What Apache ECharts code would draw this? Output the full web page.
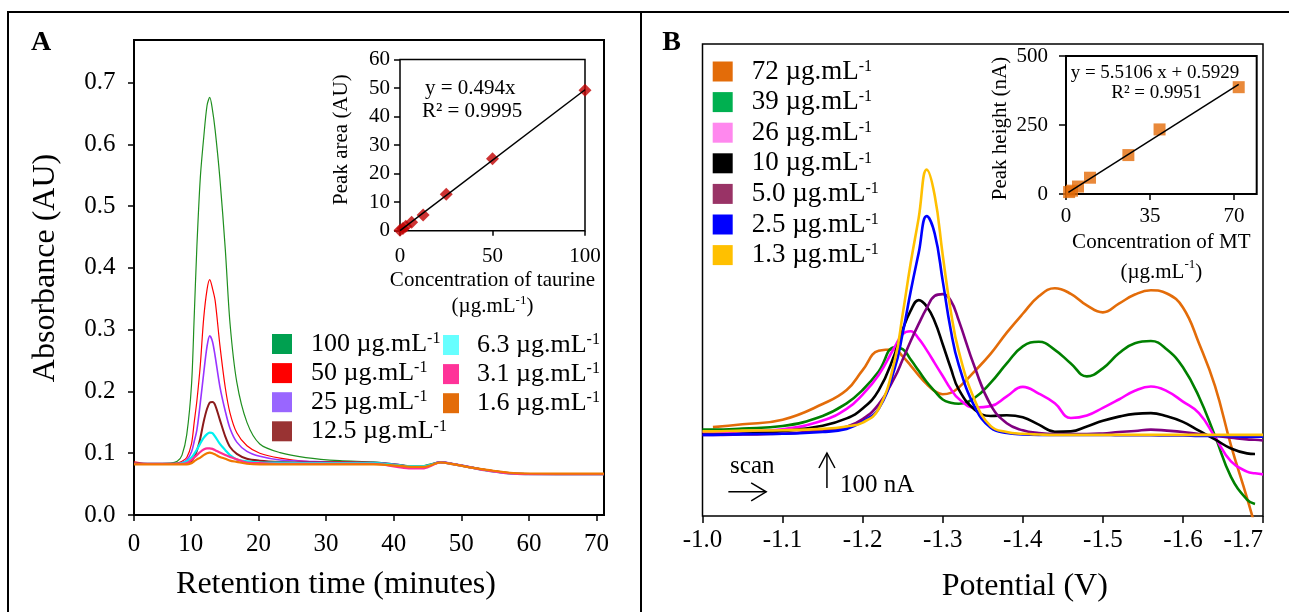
<!DOCTYPE html>
<html><head><meta charset="utf-8">
<script src="https://cdn.jsdelivr.net/npm/echarts@6/dist/echarts.min.js"></script>
<style>html,body{margin:0;padding:0;background:#fff}#c{width:1289px;height:612px}</style>
</head><body><div id="c"></div>
<script>
const FONT = "'Liberation Serif','Times New Roman',Times,serif";
const MU = '\u00B5';

// ---------- Panel A : chromatograms (retention time in minutes, absorbance in AU)
const timeA = [1.6, 4, 7, 8, 8.7, 9.4, 10.1, 10.5, 10.9, 11.4, 11.9, 12.4, 12.8, 13.2, 13.6, 14.3, 15.1, 15.8, 16.8, 18.3, 20.2, 23.2, 27, 32, 37, 40.5, 42.5, 44.5, 46.9, 48.9, 51.3, 53.8, 57.7, 64, 71.1];
const abs100 = [0.083,0.083,0.084,0.087,0.097,0.130,0.210,0.320,0.435,0.545,0.610,0.663,0.676,0.656,0.623,0.545,0.430,0.310,0.215,0.150,0.115,0.101,0.093,0.088,0.086,0.082,0.079,0.080,0.086,0.083,0.078,0.073,0.068,0.067,0.067];
const abs50  = [0.086,0.083,0.083,0.084,0.087,0.093,0.115,0.150,0.185,0.242,0.318,0.365,0.381,0.367,0.347,0.275,0.206,0.165,0.133,0.112,0.100,0.092,0.087,0.086,0.085,0.082,0.079,0.079,0.086,0.083,0.078,0.073,0.068,0.067,0.067];
const abs25  = [0.083,0.083,0.083,0.083,0.085,0.089,0.102,0.119,0.138,0.181,0.229,0.273,0.290,0.281,0.257,0.208,0.168,0.140,0.118,0.103,0.095,0.089,0.087,0.085,0.085,0.082,0.079,0.079,0.086,0.083,0.078,0.072,0.067,0.066,0.066];
const abs12_5= [0.083,0.083,0.083,0.083,0.083,0.084,0.087,0.094,0.104,0.124,0.151,0.172,0.182,0.183,0.178,0.154,0.127,0.110,0.099,0.091,0.088,0.086,0.085,0.085,0.084,0.081,0.079,0.079,0.085,0.082,0.077,0.072,0.067,0.066,0.066];
const abs6_3 = [0.083,0.083,0.083,0.083,0.084,0.087,0.093,0.099,0.106,0.116,0.125,0.131,0.1335,0.1325,0.127,0.115,0.105,0.097,0.090,0.087,0.085,0.085,0.084,0.084,0.084,0.081,0.079,0.079,0.085,0.082,0.077,0.072,0.067,0.066,0.066];
const abs3_1 = [0.083,0.083,0.083,0.083,0.083,0.084,0.089,0.093,0.097,0.102,0.106,0.108,0.108,0.107,0.105,0.101,0.097,0.094,0.090,0.085,0.084,0.083,0.083,0.083,0.083,0.078,0.0756,0.0756,0.085,0.082,0.077,0.072,0.067,0.066,0.066];
const abs1_6 = [0.082,0.082,0.082,0.082,0.082,0.082,0.084,0.087,0.090,0.093,0.097,0.100,0.101,0.100,0.098,0.094,0.091,0.088,0.086,0.083,0.082,0.082,0.082,0.082,0.082,0.080,0.078,0.078,0.085,0.082,0.077,0.073,0.068,0.067,0.067];
const ticksAx = [1.6, 10, 20, 30, 40, 50, 60, 70];
const ticksAxLabels = ['0', '10', '20', '30', '40', '50', '60', '70'];
const ticksAy = [0, 0.1, 0.2, 0.3, 0.4, 0.5, 0.6, 0.7];

// inset A : calibration of taurine
const concA = [0, 1.6, 3.1, 6.3, 12.5, 25, 50, 100];
const areaA = [0.2, 0.8, 1.6, 3.0, 5.5, 12.8, 25.2, 49.2];
const fitAx = [0, 100];
const fitAy = [0, 49.4];

// ---------- Panel B : voltammograms (potential in V, current in nA relative to baseline)
const potB = [-1.000,-1.013,-1.05,-1.10,-1.15,-1.18,-1.20,-1.22,-1.24,-1.25,-1.26,-1.27,-1.28,-1.29,-1.30,-1.31,-1.32,-1.34,-1.36,-1.38,-1.40,-1.42,-1.44,-1.46,-1.48,-1.50,-1.52,-1.54,-1.56,-1.58,-1.60,-1.62,-1.64,-1.66,-1.68,-1.69,-1.70];
const cur72  = [null,22,30,43,88,128,185,240,244,224,198,170,145,125,116,120,135,182,232,292,346,396,419,403,370,350,375,401,413,404,364,262,140,-30,-180,-260,null];
const cur39  = [15,15,18,25,54,90,128,181,250,245,215,183,151,125,101,92,89,106,149,204,253,266,243,204,167,190,233,262,268,244,193,109,-3,-120,-185,-198,null];
const cur26  = [8,8,10,16,41,74,115,171,251,288,296,275,242,205,168,131,103,78,82,110,137,118,90,48,55,77,101,126,138,125,95,62,-6,-76,-105,-110,-113];
const cur10  = [1,1,3,10,26,47,75,127,230,300,355,385,367,324,259,191,130,72,54,56,50,29,9,10,24,40,52,60,62,53,37,12,-13,-39,-53,-55,null];
const cur5   = [0,0,1,3,13,23,45,87,164,215,268,317,362,397,402,384,327,193,85,33,13,5,2,2,2,4,8,11,15,12,8,2,-3,-8,-13,-14,-16];
const cur2_5 = [0,0,2,3,8,17,38,74,190,290,410,520,625,575,440,300,200,80,20,5,1,0,0,0,0,0,-1,-1,-1,-2,-2,-3,-3,-4,-5,-5,-5];
const cur1_3 = [10,10,12,13,17,24,35,74,212,345,491,620,758,684,514,355,239,99,25,8,3,1,0,0,0,0,0,0,0,0,0,0,0,0,0,0,0];
const ticksBx = [-1.7,-1.6,-1.5,-1.4,-1.3,-1.2,-1.1,-1.0];

// inset B : calibration of MT
const concB = [1.3, 2.5, 5.0, 10, 26, 39, 72];
const heightB = [7, 12, 27, 59, 141, 234, 387];
const fitBx = [1, 72];
const fitBy = [6.1, 397.4];

const zip = (xs, ys) => xs.map((x, i) => [x, ys[i]]);

const stylesA = [
  {name:'100', data:abs100, line:'#1f8f1f', key:'#00A050', w:1.2},
  {name:'50', data:abs50, line:'#FF0000', key:'#FF0000', w:1.2},
  {name:'25', data:abs25, line:'#9933FF', key:'#9966FF', w:1.6},
  {name:'12.5', data:abs12_5, line:'#8B1A1A', key:'#993333', w:2},
  {name:'6.3', data:abs6_3, line:'#00F0F0', key:'#66FFFF', w:2.2},
  {name:'3.1', data:abs3_1, line:'#FF2D95', key:'#FF3399', w:2.2},
  {name:'1.6', data:abs1_6, line:'#F07800', key:'#E36C09', w:2.2}
];
const stylesB = [
  {name:'72', data:cur72, line:'#E36C09', key:'#E36C09'},
  {name:'39', data:cur39, line:'#008000', key:'#00B050'},
  {name:'26', data:cur26, line:'#FF00FF', key:'#FF88EE'},
  {name:'10', data:cur10, line:'#000000', key:'#000000'},
  {name:'5.0', data:cur5, line:'#800080', key:'#993366'},
  {name:'2.5', data:cur2_5, line:'#0000FF', key:'#0000FF'},
  {name:'1.3', data:cur1_3, line:'#FFC000', key:'#FFC000'}
];

const supRich = (fs) => ({sup: {fontFamily: FONT, fontSize: fs, lineHeight: Math.round(fs*0.8), verticalAlign: 'top', color: '#000'}});
const tickStyle = (len) => ({show: true, inside: false, length: len, lineStyle: {color: '#000', width: 1.5}});
const lblStyle = (fs, margin) => ({fontFamily: FONT, fontSize: fs, color: '#000', margin: margin});

const series = [];
stylesA.forEach(s => series.push({
  name: s.name, type: 'line', xAxisIndex: 0, yAxisIndex: 0, data: zip(timeA, s.data),
  showSymbol: false, smooth: 0.3, lineStyle: {color: s.line, width: s.w}, itemStyle: {color: s.key}
}));
series.push({type:'scatter', xAxisIndex:1, yAxisIndex:1, data: zip(concA, areaA), symbol:'diamond', symbolSize:13, itemStyle:{color:'#C00000'}});
series.push({type:'line', xAxisIndex:1, yAxisIndex:1, data: zip(fitAx, fitAy), showSymbol:false, lineStyle:{color:'#000', width:1.5}, z:3});
stylesB.forEach(s => series.push({
  name: s.name, type: 'line', xAxisIndex: 2, yAxisIndex: 2, data: zip(potB, s.data),
  showSymbol: false, smooth: 0.45, lineStyle: {color: s.line, width: 2.6}, itemStyle: {color: s.key}
}));
series.push({type:'scatter', xAxisIndex:3, yAxisIndex:3, data: zip(concB, heightB), symbol:'rect', symbolSize:12, itemStyle:{color:'#E36C09'}});
series.push({type:'line', xAxisIndex:3, yAxisIndex:3, data: zip(fitBx, fitBy), showSymbol:false, lineStyle:{color:'#000', width:1.5}, z:3});

const legendBase = (names, styles, left, top, w, fs, gap, pad) => ({
  data: names.map(n => ({name: n, itemStyle: {color: styles.find(s => s.name === n).key, borderWidth: 0}})),
  orient: 'vertical', left: left, top: top, padding: 0, itemWidth: w, itemHeight: 20, itemGap: gap,
  icon: 'rect', selectedMode: false, itemStyle: {borderWidth: 0},
  formatter: n => n + ' ' + MU + 'g.mL{sup|-1}',
  textStyle: {fontFamily: FONT, fontSize: fs, color: '#000', lineHeight: 26, padding: [0, 0, 0, pad], rich: supRich(Math.round(fs * 0.6))}
});

const option = {
  animation: false,
  backgroundColor: '#fff',
  grid: [
    {left: 134, top: 40, width: 470, height: 475, show: true, borderColor: '#000', borderWidth: 2, backgroundColor: 'transparent'},
    {left: 400, top: 59.5, width: 185, height: 171.2, show: true, borderColor: '#000', borderWidth: 1.5, backgroundColor: 'transparent'},
    {left: 702.5, top: 44, width: 560.5, height: 472, show: true, borderColor: '#000', borderWidth: 1.5, backgroundColor: 'transparent'},
    {left: 1066, top: 56, width: 190.7, height: 138, show: true, borderColor: '#000', borderWidth: 2, backgroundColor: 'transparent'}
  ],
  xAxis: [
    {gridIndex: 0, type: 'value', min: 1.6, max: 71.1, axisLine: {show: false, onZero: false}, splitLine: {show: false},
     axisTick: Object.assign(tickStyle(6), {customValues: ticksAx}),
     axisLabel: Object.assign(lblStyle(25, 17), {customValues: ticksAx, formatter: v => { const i = ticksAx.indexOf(v); return i >= 0 ? ticksAxLabels[i] : ''; }}),
     name: 'Retention time (minutes)', nameLocation: 'middle', nameGap: 52,
     nameTextStyle: {fontFamily: FONT, fontSize: 32, color: '#000', lineHeight: 36, padding: [0, 66, 0, 0]}},
    {gridIndex: 1, type: 'value', min: 0, max: 100, interval: 50, axisLine: {show: false, onZero: false}, splitLine: {show: false},
     axisTick: tickStyle(5), axisLabel: lblStyle(21, 15),
     name: 'Concentration of taurine\n(' + MU + 'g.mL{sup|-1})', nameLocation: 'middle', nameGap: 36,
     nameTextStyle: {fontFamily: FONT, fontSize: 21, color: '#000', lineHeight: 26, rich: supRich(13)}},
    {gridIndex: 2, type: 'value', min: -1.7, max: -1.0, inverse: true, axisLine: {show: false, onZero: false}, splitLine: {show: false},
     axisTick: Object.assign(tickStyle(7), {customValues: ticksBx}),
     axisLabel: Object.assign(lblStyle(25, 12), {customValues: ticksBx, formatter: v => v.toFixed(1), alignMinLabel: 'right'}),
     name: 'Potential (V)', nameLocation: 'middle', nameGap: 53,
     nameTextStyle: {fontFamily: FONT, fontSize: 32, color: '#000', lineHeight: 36, padding: [0, 0, 0, 84]}},
    {gridIndex: 3, type: 'value', min: 0, max: 79.5, axisLine: {show: false, onZero: false}, splitLine: {show: false},
     axisTick: Object.assign(tickStyle(6), {customValues: [0, 35, 70]}),
     axisLabel: Object.assign(lblStyle(21, 12), {customValues: [0, 35, 70]}),
     name: 'Concentration of MT\n(' + MU + 'g.mL{sup|-1})', nameLocation: 'middle', nameGap: 24,
     nameTextStyle: {fontFamily: FONT, fontSize: 21, color: '#000', lineHeight: 30, rich: supRich(13)}}
  ],
  yAxis: [
    {gridIndex: 0, type: 'value', min: 0, max: 0.769, axisLine: {show: false, onZero: false}, splitLine: {show: false},
     axisTick: Object.assign(tickStyle(6), {customValues: ticksAy}),
     axisLabel: Object.assign(lblStyle(25, 18.5), {customValues: ticksAy, formatter: v => v.toFixed(1)}),
     name: 'Absorbance (AU)', nameLocation: 'middle', nameGap: 70,
     nameTextStyle: {fontFamily: FONT, fontSize: 32, color: '#000', lineHeight: 36, padding: [0, 0, 0, 19]}},
    {gridIndex: 1, type: 'value', min: 0, max: 60, interval: 10, axisLine: {show: false, onZero: false}, splitLine: {show: false},
     axisTick: tickStyle(6), axisLabel: lblStyle(21, 10),
     name: 'Peak area (AU)', nameLocation: 'middle', nameGap: 47,
     nameTextStyle: {fontFamily: FONT, fontSize: 21, color: '#000', lineHeight: 24, padding: [0, 0, 0, 11]}},
    {gridIndex: 2, type: 'value', min: -232, max: 1117, show: false},
    {gridIndex: 3, type: 'value', min: 0, max: 500, interval: 250, axisLine: {show: false, onZero: false}, splitLine: {show: false},
     axisTick: tickStyle(7), axisLabel: lblStyle(21, 18),
     name: 'Peak height (nA)', nameLocation: 'middle', nameGap: 54,
     nameTextStyle: {fontFamily: FONT, fontSize: 21, color: '#000', lineHeight: 24, padding: [0, 7, 0, 0]}}
  ],
  legend: [
    legendBase(['100', '50', '25', '12.5'], stylesA, 272, 331, 20, 26, 3.1, 14),
    legendBase(['6.3', '3.1', '1.6'], stylesA, 443, 332, 16, 26, 3.1, 13),
    legendBase(['72', '39', '26', '10', '5.0', '2.5', '1.3'], stylesB, 712.7, 58, 20, 27, 3.6, 14)
  ],
  series: series
};

const chart = echarts.init(document.getElementById('c'));
chart.setOption(option);

// ---------- annotations (placed in data coordinates)
const eqA = [{text: 'y = 0.494x', x: 38, y: 49.9}, {text: 'R\u00B2 = 0.9995', x: 39, y: 41.7}];
const eqB = [{text: 'y = 5.5106 x + 0.5929', x: 37.1, y: 437}, {text: 'R\u00B2 = 0.9951', x: 37.8, y: 365}];
const scaleBar = {x: -1.1554, y0: -152, y1: -52, labelX: -1.1717, labelY: -146};
const scanArrow = {x0: -1.0323, x1: -1.0795, y: -163, labelX: -1.0622, labelY: -89};

const px = (g, x, y) => chart.convertToPixel({gridIndex: g}, [x, y]);
const txt = (t, p, fs, align, weight) => ({type: 'text', x: p[0], y: p[1], z: 10,
  style: {text: t, fontFamily: FONT, fontSize: fs, fontWeight: weight || 'normal', fill: '#000', align: align || 'center', verticalAlign: 'middle'}});
const seg = (pts, w) => ({type: 'polyline', z: 10, shape: {points: pts}, style: {stroke: '#000', lineWidth: w || 1.5, fill: null}});

const g = [];
// figure frame
g.push(seg([[8, 612], [8, 12], [1289, 12]], 2));
g.push(seg([[641, 12], [641, 612]], 2));
g.push(txt('A', [41, 43], 28, 'center', 'bold'));
g.push(txt('B', [671.5, 43], 28, 'center', 'bold'));
eqA.forEach(e => g.push(txt(e.text, px(1, e.x, e.y), 21)));
eqB.forEach(e => g.push(txt(e.text, px(3, e.x, e.y), 19)));
// scale bar
const sb0 = px(2, scaleBar.x, scaleBar.y0), sb1 = px(2, scaleBar.x, scaleBar.y1);
g.push(seg([sb0, sb1]));
g.push(seg([[sb1[0] - 8, sb1[1] + 15], sb1, [sb1[0] + 8, sb1[1] + 15]]));
g.push(txt('100 nA', px(2, scaleBar.labelX, scaleBar.labelY), 25, 'left'));
// scan arrow
const sa0 = px(2, scanArrow.x0, scanArrow.y), sa1 = px(2, scanArrow.x1, scanArrow.y);
g.push(seg([sa0, sa1]));
g.push(seg([[sa1[0] - 15, sa1[1] - 9], sa1, [sa1[0] - 15, sa1[1] + 9]]));
g.push(txt('scan', px(2, scanArrow.labelX, scanArrow.labelY), 25));

chart.setOption({graphic: g});
</script>
</body></html>
